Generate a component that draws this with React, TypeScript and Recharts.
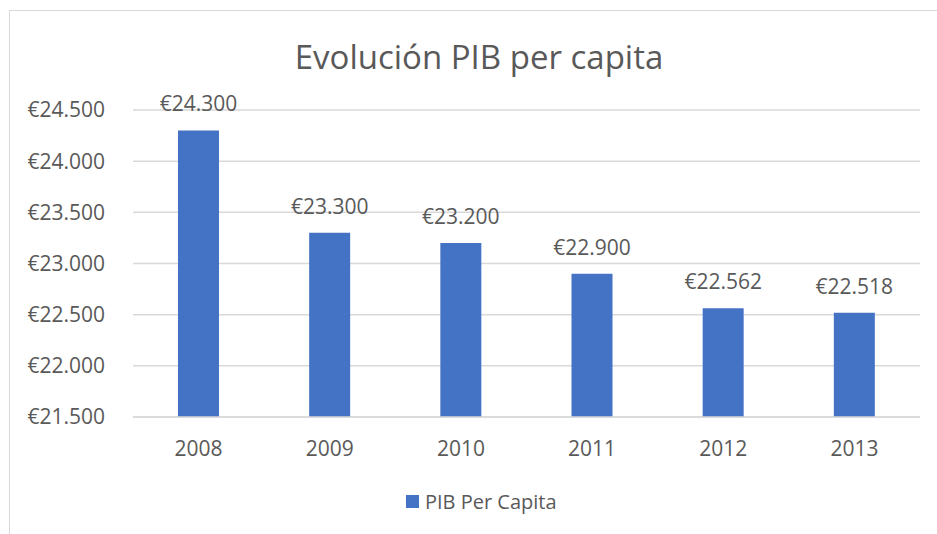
import React from 'react'
import { BarChart, Bar, XAxis, YAxis, CartesianGrid, LabelList, Legend } from 'recharts'

// datos
const years = ['2008', '2009', '2010', '2011', '2012', '2013']
const pibPerCapita = [24300, 23300, 23200, 22900, 22562, 22518]
const yTicks = [21500, 22000, 22500, 23000, 23500, 24000, 24500]

const chartData = years.map((year, i) => ({ year, pib: pibPerCapita[i] }))

const FONT = '"Open Sans", "Segoe UI", sans-serif'
const TEXT = '#595959'
const BLUE = '#4472C4'
const GRID = '#D9D9D9'

const euro = (v: number) => '€' + String(v).replace(/\B(?=(\d{3})+(?!\d))/g, '.')

const renderLegend = () => (
  <div
    style={{
      display: 'flex',
      alignItems: 'center',
      height: 30,
      fontFamily: FONT,
      fontSize: 20,
      color: TEXT,
    }}
  >
    <span style={{ display: 'inline-block', width: 13, height: 13, background: BLUE, marginRight: 6 }} />
    <span>PIB Per Capita</span>
  </div>
)

export default function App() {
  return (
    <div
      style={{
        position: 'absolute',
        left: 0,
        top: 0,
        width: 937,
        height: 534,
        overflow: 'hidden',
        background: '#fff',
      }}
    >
      {/* marco del gráfico */}
      <div
        style={{
          position: 'absolute',
          left: 9,
          top: 10,
          width: 960,
          height: 560,
          border: `1.5px solid ${GRID}`,
        }}
      />
      <div
        style={{
          position: 'absolute',
          left: 0,
          top: 34,
          width: 958,
          textAlign: 'center',
          fontFamily: FONT,
          fontSize: 33,
          color: TEXT,
        }}
      >
        Evolución PIB per capita
      </div>
      <div style={{ position: 'absolute', left: 0, top: 0 }}>
        <BarChart
          width={937}
          height={534}
          data={chartData}
          margin={{ top: 110, right: 17, bottom: 57, left: 0 }}
        >
          <CartesianGrid vertical={false} stroke={GRID} strokeWidth={1.5} />
          <XAxis
            dataKey="year"
            height={30}
            tickLine={false}
            axisLine={{ stroke: GRID, strokeWidth: 1.5 }}
            tickMargin={18}
            tick={{ fill: TEXT, fontSize: 21, fontFamily: FONT }}
          />
          <YAxis
            width={133}
            domain={[21500, 24500]}
            ticks={yTicks}
            interval={0}
            tickLine={false}
            axisLine={false}
            tickMargin={22}
            tickFormatter={euro}
            tick={{ fill: TEXT, fontSize: 21, fontFamily: FONT }}
          />
          <Legend
            content={renderLegend}
            wrapperStyle={{ left: 406, top: 486, width: 'auto', bottom: 'auto' }}
          />
          <Bar dataKey="pib" name="PIB Per Capita" fill={BLUE} barSize={41} isAnimationActive={false}>
            <LabelList
              dataKey="pib"
              position="top"
              offset={19}
              formatter={(v: number) => euro(v)}
              style={{ fill: TEXT, fontSize: 21, fontFamily: FONT }}
            />
          </Bar>
        </BarChart>
      </div>
    </div>
  )
}
